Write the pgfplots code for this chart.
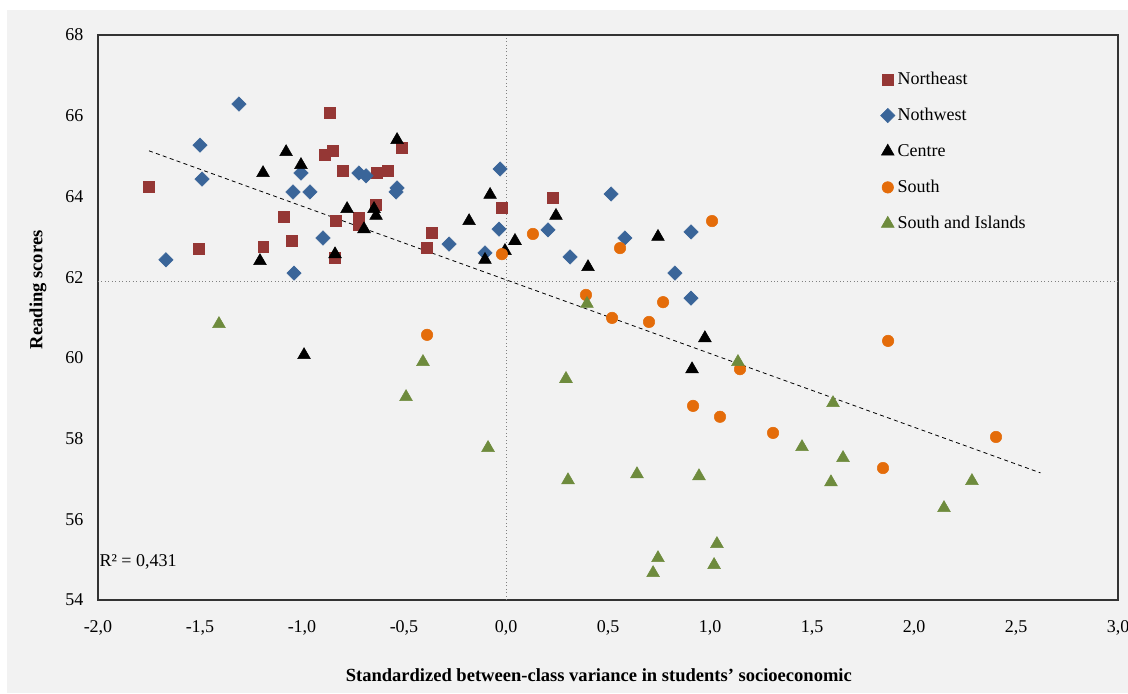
\documentclass[border=0pt]{standalone}
\usepackage{fontspec}
\setmainfont{Liberation Serif}
\usepackage{pgfplots}
\pgfplotsset{compat=1.18}
\definecolor{bg}{HTML}{F2F2F2}
\definecolor{ne}{HTML}{953735}
\definecolor{nw}{HTML}{3A6599}
\definecolor{so}{HTML}{E46C0A}
\definecolor{si}{HTML}{6E8B3D}
\begin{document}
\begin{tikzpicture}
\path[use as bounding box] (-73.5pt,-69.75pt) rectangle (772.5pt,450pt);
\fill[bg] (-68.25pt,-69.75pt) rectangle (772.5pt,442.5pt);
\begin{axis}[
  at={(0,0)}, anchor=south west, scale only axis,
  width=765pt, height=423.75pt,
  xmin=-2, xmax=3, ymin=54, ymax=68,
  xtick={-2,-1.5,...,3}, ytick={54,56,...,68},
  major tick length=0pt,
  axis line style={draw=black!80, line width=0.8pt},
  /pgf/number format/assume math mode=true,
  tick label style={font=\fontsize{13.5}{16}\selectfont},
  xticklabel style={/pgf/number format/.cd, use comma, fixed, fixed zerofill, precision=1},
  xticklabel shift=12pt,
  yticklabel shift=7.5pt,
  xlabel={Standardized between-class variance in students’ socioeconomic},
  ylabel={Reading scores},
  label style={font=\bfseries\fontsize{13.9}{16}\selectfont},
  xlabel style={at={(axis description cs:0.491,-0.1327)}, anchor=center},
  ylabel style={at={(axis description cs:-0.0588,0.549)}, anchor=center},
  legend style={draw=none, fill=none, at={(axis description cs:0.767,0.9396)}, anchor=north west,
    font=\fontsize{13.5}{16}\selectfont, row sep=12.3pt, inner sep=0pt},
  legend cell align=left,
  legend image code/.code={\draw[#1] plot coordinates {(0.15cm,0cm)};},
]
\addplot[gray, line width=0.6pt, dotted, forget plot] coordinates {(0,54) (0,68)};
\addplot[gray, line width=0.6pt, dotted, forget plot] coordinates {(-2,61.9) (3,61.9)};

% Northeast
\addplot[only marks, mark=square*, mark size=4.1pt, color=ne] coordinates {
(-1.750,64.23) (-1.505,62.70) (-1.190,62.75) (-1.088,63.49) (-1.049,62.90)
(-0.863,66.07) (-0.887,65.03) (-0.848,65.13) (-0.800,64.63) (-0.833,63.39)
(-0.838,62.47) (-0.720,63.47) (-0.720,63.30) (-0.637,63.79) (-0.632,64.58)
(-0.578,64.63) (-0.510,65.20) (-0.363,63.09) (-0.387,62.72) (-0.020,63.71)
(0.230,63.96)};
\addlegendentry{Northeast}
% Nothwest
\addplot[only marks, mark=square*, mark size=3.8pt, mark options={rotate=45}, color=nw] coordinates {
(-1.667,62.43) (-1.500,65.27) (-1.490,64.43) (-1.309,66.29) (-1.044,64.11)
(-1.005,64.58) (-0.961,64.11) (-1.039,62.10) (-0.897,62.97) (-0.721,64.58)
(-0.686,64.51) (-0.534,64.21) (-0.539,64.11) (-0.029,64.68) (-0.279,62.82)
(-0.103,62.60) (-0.034,63.19) (0.206,63.17) (0.314,62.50) (0.515,64.06)
(0.583,62.97) (0.828,62.10) (0.907,63.12) (0.907,61.48)};
\addlegendentry{Nothwest}
% Centre
\addplot[only marks, mark=triangle*, mark size=5.5pt, color=black] coordinates {
(-1.191,64.58) (-1.078,65.10) (-1.005,64.78) (-1.206,62.40) (-0.779,63.69)
(-0.696,63.19) (-0.647,63.69) (-0.637,63.52) (-0.838,62.57) (-0.534,65.40)
(-0.078,64.04) (-0.181,63.39) (-0.103,62.43) (-0.005,62.65) (0.044,62.90)
(0.245,63.52) (0.402,62.25) (0.745,63.00) (0.975,60.49) (-0.990,60.07)
(0.912,59.72)};
\addlegendentry{Centre}
% South
\addplot[only marks, mark=*, mark size=4.3pt, color=so] coordinates {
(0.132,63.07) (-0.020,62.57) (0.559,62.72) (1.010,63.39) (0.392,61.56)
(0.770,61.38) (0.520,60.99) (0.701,60.89) (-0.387,60.57) (0.917,58.81)
(1.049,58.54) (1.309,58.14) (1.147,59.72) (1.873,60.42) (2.402,58.04)
(1.848,57.27)};
\addlegendentry{South}
% South and Islands
\addplot[only marks, mark=triangle*, mark size=5.5pt, color=si] coordinates {
(-1.407,60.84) (0.397,61.34) (-0.407,59.90) (-0.490,59.03) (-0.088,57.77)
(0.294,59.48) (0.304,56.97) (0.642,57.12) (0.946,57.07) (1.137,59.90)
(1.034,55.39) (0.745,55.04) (0.721,54.67) (1.020,54.87) (1.603,58.88)
(1.451,57.79) (1.652,57.52) (1.593,56.92) (2.147,56.28) (2.284,56.95)};
\addlegendentry{South and Islands}

\addplot[black, line width=0.6pt, dash pattern=on 3pt off 2.5pt, forget plot] coordinates {(-1.75,65.13) (2.62,57.15)};

\node[anchor=west, inner sep=1pt, font=\fontsize{13.5}{16}\selectfont] at (axis cs:-2,54.94) {R² = 0,431};
\end{axis}
\end{tikzpicture}
\end{document}
